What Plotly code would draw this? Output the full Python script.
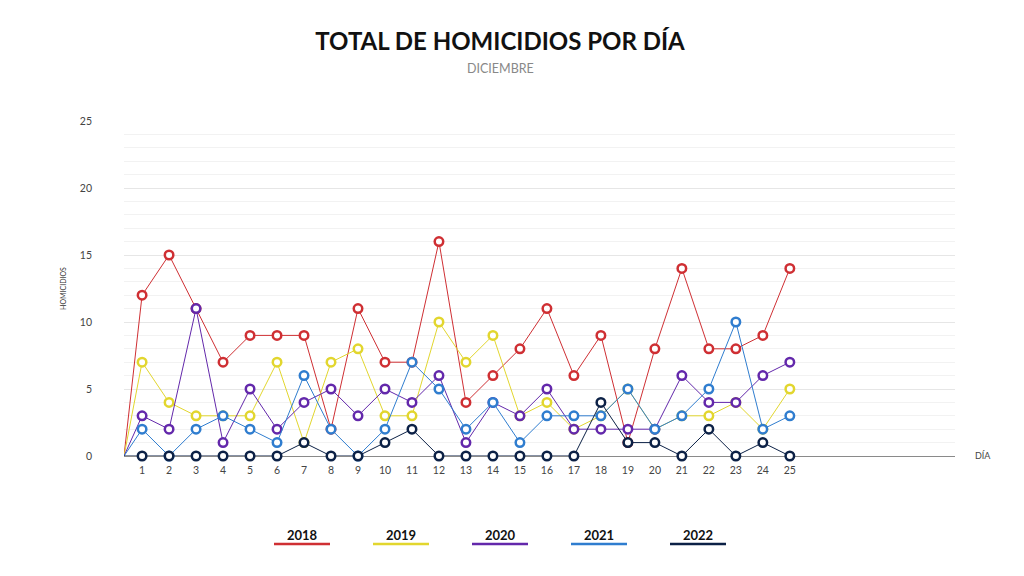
import plotly.graph_objects as go

days = list(range(1, 26))
years = ["2018", "2019", "2020", "2021", "2022"]
colors = ["#cf2f33", "#e2d62e", "#6328ab", "#2f7dcf", "#0c2146"]

v2018 = [12, 15, 11, 7, 9, 9, 9, 2, 11, 7, 7, 16, 4, 6, 8, 11, 6, 9, 1, 8, 14, 8, 8, 9, 14]
v2019 = [7, 4, 3, 3, 3, 7, 1, 7, 8, 3, 3, 10, 7, 9, 3, 4, 2, 3, 5, 2, 3, 3, 4, 2, 5]
v2020 = [3, 2, 11, 1, 5, 2, 4, 5, 3, 5, 4, 6, 1, 4, 3, 5, 2, 2, 2, 2, 6, 4, 4, 6, 7]
v2021 = [2, 0, 2, 3, 2, 1, 6, 2, 0, 2, 7, 5, 2, 4, 1, 3, 3, 3, 5, 2, 3, 5, 10, 2, 3]
v2022 = [0, 0, 0, 0, 0, 0, 1, 0, 0, 1, 2, 0, 0, 0, 0, 0, 0, 4, 1, 1, 0, 2, 0, 1, 0]
series = [v2018, v2019, v2020, v2021, v2022]

y_ticks = [0, 5, 10, 15, 20, 25]

X_RANGE = [0.33, 31.12]
Y_RANGE = [0, 25]

fig = go.Figure()
for name, col, vals in zip(years, colors, series):
    xs = [X_RANGE[0]] + days
    ys = [0] + vals
    sizes = [0] + [8.5] * len(vals)
    fig.add_trace(go.Scatter(
        x=xs, y=ys, name=name, mode="lines+markers",
        line=dict(color=col, width=1),
        marker=dict(size=sizes, color="white", opacity=1,
                    line=dict(color=col, width=2.5)),
        cliponaxis=False, showlegend=False,
    ))

# the page body has an 8px default margin: lay out in window pixels minus that offset
OFF = 8
W, H = 1024 - OFF, 576 - OFF
ml, mr, mt, mb = 124 - OFF, 69, 121 - OFF, 120
pw = W - ml - mr
ph = H - mt - mb


def px_x(px):
    return (px - OFF - ml) / pw


def px_y(py):
    return (H - mb - (py - OFF)) / ph


fig.update_layout(
    width=W, height=H,
    margin=dict(l=ml, r=mr, t=mt, b=mb),
    paper_bgcolor="white", plot_bgcolor="white",
    font=dict(family="Lato, Open Sans, sans-serif", color="#333"),
    title=dict(
        text="<b>TOTAL DE HOMICIDIOS POR DÍA</b>",
        x=(500 - OFF) / W, xref="container", xanchor="center",
        y=1 - (42 - OFF) / H, yref="container", yanchor="middle",
        font=dict(size=24, color="#111", family="Lato, sans-serif"),
    ),
    xaxis=dict(
        range=X_RANGE, tickvals=days, ticktext=[str(d) for d in days],
        showgrid=False, zeroline=False, showline=False,
        tickfont=dict(size=10.5, color="#444"), ticks="",
        ticklabelstandoff=6,
    ),
    yaxis=dict(
        range=Y_RANGE, tickvals=y_ticks,
        showgrid=True, gridcolor="#e6e6e6", gridwidth=1,
        minor=dict(dtick=1, showgrid=True, gridcolor="#f2f2f2", gridwidth=1),
        zeroline=True, zerolinecolor="#8a8a8a", zerolinewidth=1,
        tickfont=dict(size=10.5, color="#444"), ticks="",
        ticklabelstandoff=31,
        title=dict(text="HOMICIDIOS", font=dict(size=7, color="#333"), standoff=12),
    ),
    showlegend=False,
)

# subtitle
fig.add_annotation(text="DICIEMBRE", xref="paper", yref="paper",
                   x=px_x(500), y=px_y(68), xanchor="center", yanchor="middle",
                   showarrow=False, font=dict(size=12.5, color="#888"))
# x-axis title
fig.add_annotation(text="DÍA", xref="paper", yref="paper",
                   x=px_x(983), y=px_y(455), xanchor="center", yanchor="middle",
                   showarrow=False, font=dict(size=9, color="#444"))

# legend built from the series names/colors
center, step, half = 302, 99, 28
for i, (name, col) in enumerate(zip(years, colors)):
    cx = center + i * step
    fig.add_annotation(text=f"<b>{name}</b>", xref="paper", yref="paper",
                       x=px_x(cx), y=px_y(535),
                       xanchor="center", yanchor="middle", showarrow=False,
                       font=dict(size=13, color="#111"))
    fig.add_shape(type="line", xref="paper", yref="paper",
                  x0=px_x(cx - half), x1=px_x(cx + half),
                  y0=px_y(544), y1=px_y(544),
                  line=dict(color=col, width=2.5))

fig.write_html("out.html")
